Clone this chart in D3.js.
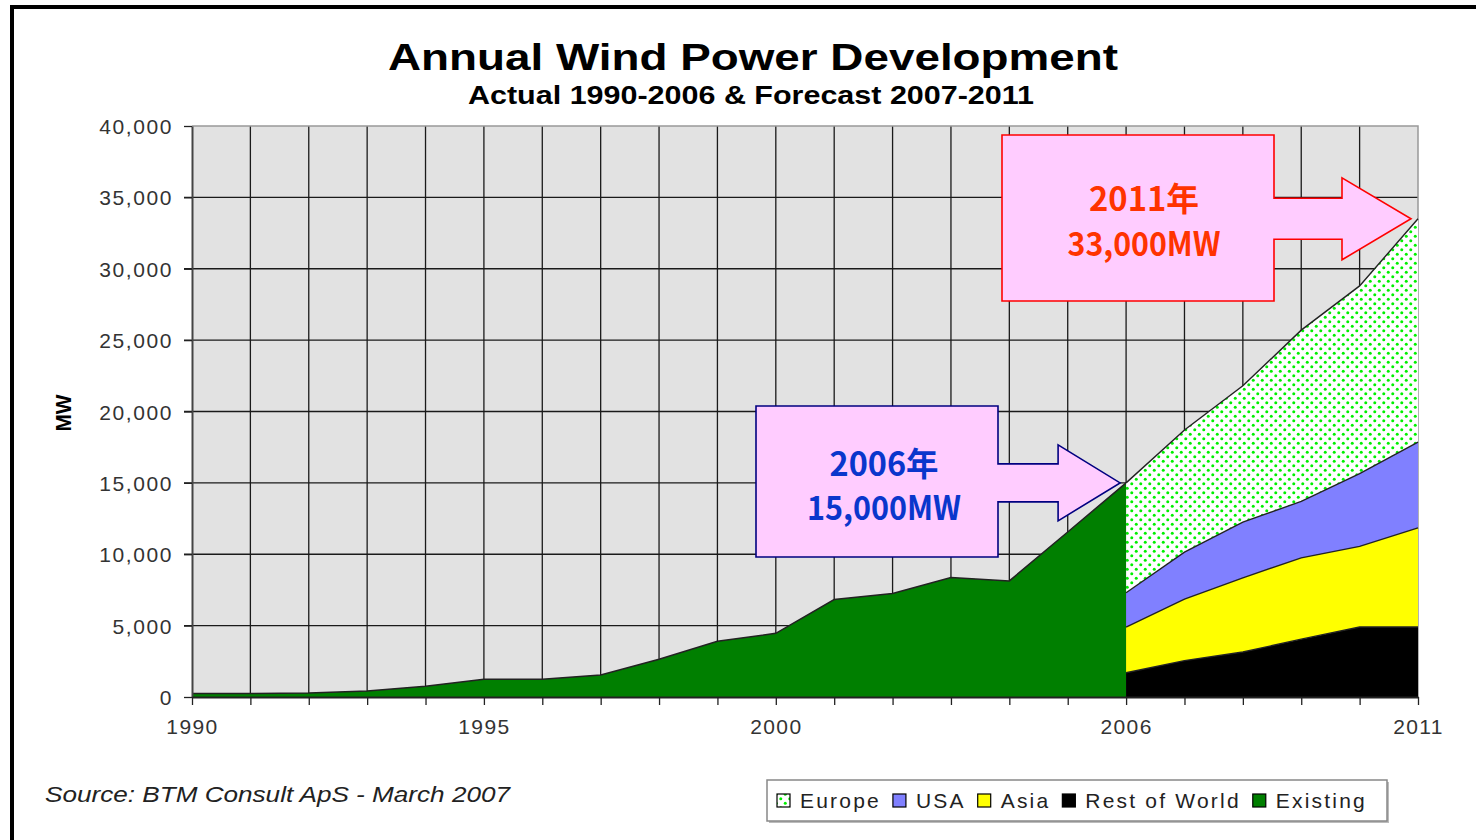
<!DOCTYPE html>
<html>
<head>
<meta charset="utf-8">
<script src="https://cdn.jsdelivr.net/npm/d3@7"></script>
<style>
  body { margin:0; background:#fff; }
  svg { display:block; }
  .tick text { font-family:"Liberation Sans", Arial, sans-serif; fill:#333; }
</style>
</head>
<body>
<svg id="chart" width="1476" height="840"></svg>
<script>
// ---- data (MW) ----
const existingYears = d3.range(1990, 2007);
const existing      = [240, 240, 280, 420, 750, 1240, 1240, 1540, 2640, 3900, 4460, 6830, 7250, 8370, 8130, 11560, 15000];

const forecastYears = [2006, 2007, 2008, 2009, 2010, 2011];
const restOfWorld   = [1700, 2550, 3150, 4050, 4900, 4900];
const asia          = [3200, 4300, 5200, 5700, 5650, 6950];
const usa           = [2400, 3300, 3900, 3950, 5100, 6000];
const europe        = [7700, 8550, 9550, 12000, 13150, 15650];

const yTicks  = [0, 5000, 10000, 15000, 20000, 25000, 30000, 35000, 40000];
const xLabels = [1990, 1995, 2000, 2006, 2011];

const legendItems = [
  { key:'europe', label:'Europe' },
  { key:'usa',    label:'USA' },
  { key:'asia',   label:'Asia' },
  { key:'rest',   label:'Rest of World' },
  { key:'existing', label:'Existing' }
];
const fills = { europe:'url(#dots)', usa:'#8080ff', asia:'#ffff00', rest:'#000000', existing:'#007f00' };

// ---- setup ----
const svg = d3.select('#chart');
const x = d3.scaleLinear().domain([1990, 2011]).range([192, 1418]);
const y = d3.scaleLinear().domain([0, 40000]).range([697, 126]);

const defs = svg.append('defs');
const pat = defs.append('pattern').attr('id','dots')
  .attr('patternUnits','userSpaceOnUse').attr('width',9).attr('height',9);
pat.append('rect').attr('width',9).attr('height',9).attr('fill','#fff');
pat.append('circle').attr('cx',2.25).attr('cy',2.25).attr('r',1.5).attr('fill','#00f000');
pat.append('circle').attr('cx',6.75).attr('cy',6.75).attr('r',1.5).attr('fill','#00f000');

// outer frame (cut off at right and bottom)
svg.append('rect').attr('x',12).attr('y',7).attr('width',1500).attr('height',860)
  .attr('fill','#fff').attr('stroke','#000').attr('stroke-width',4);

// titles
svg.append('text').attr('x',753).attr('y',70).attr('text-anchor','middle')
  .attr('font-family','"Liberation Sans", Arial, sans-serif').attr('font-weight','bold')
  .attr('font-size',37).attr('textLength',730).attr('lengthAdjust','spacingAndGlyphs')
  .text('Annual Wind Power Development');
svg.append('text').attr('x',751).attr('y',104).attr('text-anchor','middle')
  .attr('font-family','"Liberation Sans", Arial, sans-serif').attr('font-weight','bold')
  .attr('font-size',25).attr('textLength',566).attr('lengthAdjust','spacingAndGlyphs')
  .text('Actual 1990-2006 & Forecast 2007-2011');

// plot background
svg.append('rect').attr('x',x(1990)).attr('y',y(40000))
  .attr('width',x(2011)-x(1990)).attr('height',y(0)-y(40000)).attr('fill','#e2e2e2');

// grid
const grid = svg.append('g');
grid.selectAll('line.h').data(yTicks.filter(d=>d>0 && d<40000)).join('line')
  .attr('x1',x(1990)-8).attr('x2',x(2011)).attr('y1',d=>y(d)).attr('y2',d=>y(d))
  .attr('stroke','#1a1a1a').attr('stroke-width',1.3);
grid.selectAll('line.v').data(d3.range(1991, 2011)).join('line')
  .attr('x1',d=>x(d)).attr('x2',d=>x(d)).attr('y1',y(40000)).attr('y2',y(0))
  .attr('stroke','#1a1a1a').attr('stroke-width',1.3);
// plot border top/right
svg.append('path').attr('d',`M${x(1990)},${y(40000)}H${x(2011)}V${y(0)}`)
  .attr('fill','none').attr('stroke','#999').attr('stroke-width',1.5);

// existing area
const exData = existingYears.map((yr,i)=>({year:yr, v:existing[i]}));
svg.append('path').datum(exData)
  .attr('d', d3.area().x(d=>x(d.year)).y0(y(0)).y1(d=>y(d.v)))
  .attr('fill', fills.existing);
svg.append('path').datum(exData)
  .attr('d', d3.line().x(d=>x(d.year)).y(d=>y(d.v)))
  .attr('fill','none').attr('stroke','#222').attr('stroke-width',1.5);

// forecast stack
const fcData = forecastYears.map((yr,i)=>({year:yr, rest:restOfWorld[i], asia:asia[i], usa:usa[i], europe:europe[i]}));
const stack = d3.stack().keys(['rest','asia','usa','europe'])(fcData);
const area = d3.area().x(d=>x(d.data.year)).y0(d=>y(d[0])).y1(d=>y(d[1]));
svg.selectAll('path.layer').data(stack).join('path').attr('class','layer')
  .attr('d', area).attr('fill', d=>fills[d.key]);
svg.selectAll('path.layerline').data(stack).join('path').attr('class','layerline')
  .attr('d', s=>d3.line().x(d=>x(d.data.year)).y(d=>y(d[1]))(s))
  .attr('fill','none').attr('stroke','#222').attr('stroke-width',1.4);

// axes
const yAxis = svg.append('g').attr('transform',`translate(${x(1990)},0)`)
  .call(d3.axisLeft(y).tickValues(yTicks).tickFormat(d3.format(',')).tickSize(8).tickSizeOuter(0).tickPadding(11));
yAxis.select('.domain').attr('stroke','#444').attr('stroke-width',2);
yAxis.selectAll('.tick line').attr('stroke','#222').attr('stroke-width',1.3);
yAxis.selectAll('.tick text').attr('font-size',21).attr('letter-spacing',1.6).attr('dy','0.36em');

const xAxis = svg.append('g').attr('transform',`translate(0,${y(0)})`)
  .call(d3.axisBottom(x).tickValues(d3.range(1990, 2012))
    .tickFormat(d=>xLabels.includes(d) ? String(d) : '').tickSize(8).tickSizeOuter(0).tickPadding(14));
xAxis.select('.domain').attr('stroke','#222').attr('stroke-width',2);
xAxis.selectAll('.tick line').attr('stroke','#222').attr('stroke-width',1.3);
xAxis.selectAll('.tick text').attr('font-size',21).attr('letter-spacing',1.4);

// y title
svg.append('text').attr('transform','translate(71,413) rotate(-90)').attr('text-anchor','middle')
  .attr('font-family','"Liberation Sans", Arial, sans-serif').attr('font-weight','bold')
  .attr('font-size',22).attr('textLength',37).attr('lengthAdjust','spacingAndGlyphs').text('MW');

// callouts
function callout(box, tip, shaftHalf, headHalf, headLen, stroke) {
  const [x0,y0,x1,y1] = box, [tx,ty] = tip, hx = tx - headLen;
  const pts = [[x0,y0],[x1,y0],[x1,ty-shaftHalf],[hx,ty-shaftHalf],[hx,ty-headHalf],[tx,ty],
               [hx,ty+headHalf],[hx,ty+shaftHalf],[x1,ty+shaftHalf],[x1,y1],[x0,y1]];
  svg.append('polygon').attr('points', pts.map(p=>p.join(',')).join(' '))
    .attr('fill','#ffccff').attr('stroke',stroke).attr('stroke-width',1.6);
}
function calloutText(cx, lines, color) {
  lines.forEach(l => svg.append('text').attr('x',cx).attr('y',l.y).attr('text-anchor','middle')
    .attr('font-family','"Noto Sans CJK JP", "Noto Sans", sans-serif').attr('font-weight','bold')
    .attr('font-size',33).attr('fill',color)
    .attr('textLength',l.w).attr('lengthAdjust','spacingAndGlyphs').text(l.t));
}
callout([756,406,998,557], [x(2006)-6, y(15000)], 19, 38, 62, '#000080');
calloutText(884, [{t:'2006年', y:476, w:109}, {t:'15,000MW', y:520, w:154}], '#0a36cc');
callout([1002,135,1274,301], [x(2011)-7, y(33500)], 20.5, 41, 69, '#ff0000');
calloutText(1144, [{t:'2011年', y:211, w:110}, {t:'33,000MW', y:256, w:153}], '#ff3300');

// source
svg.append('text').attr('x',45).attr('y',802)
  .attr('font-family','"Liberation Sans", Arial, sans-serif').attr('font-style','italic')
  .attr('font-size',22).attr('fill','#222').attr('textLength',465).attr('lengthAdjust','spacingAndGlyphs')
  .text('Source: BTM Consult ApS - March 2007');

// legend
svg.append('rect').attr('x',769).attr('y',782).attr('width',620).attr('height',41).attr('fill','#bbb');
svg.append('rect').attr('x',767).attr('y',780).attr('width',620).attr('height',41)
  .attr('fill','#fff').attr('stroke','#888').attr('stroke-width',1.5);
let lx = 777;
legendItems.forEach(item => {
  svg.append('rect').attr('x',lx).attr('y',794).attr('width',13).attr('height',13)
    .attr('fill',fills[item.key]).attr('stroke','#000').attr('stroke-width',1.2);
  const t = svg.append('text').attr('x',lx+23).attr('y',808)
    .attr('font-family','"Liberation Sans", Arial, sans-serif').attr('font-size',21)
    .attr('letter-spacing',2.2).attr('fill','#222').text(item.label);
  lx = lx + 23 + t.node().getComputedTextLength() + 12;
});
</script>
</body>
</html>
